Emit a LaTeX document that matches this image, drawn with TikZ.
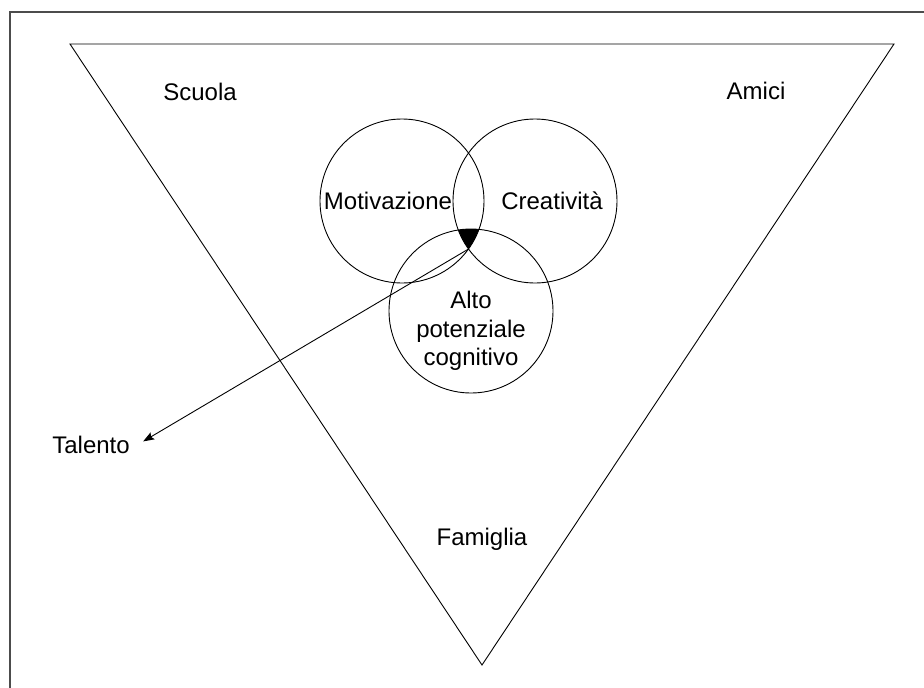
\documentclass[tikz,border=0pt]{standalone}
\usepackage{fontspec}
\setmainfont{Liberation Sans}
\usepackage{tikz}
\usetikzlibrary{arrows.meta}
\usetikzlibrary{calc}

\begin{document}
\begin{tikzpicture}[x=1pt,y=-1pt,line width=0.9pt,
    ring/.style={circle, draw, minimum size=164pt, inner sep=0pt},
    lbl/.style={font=\fontsize{24}{28.5}\selectfont, inner sep=0pt}]
    \useasboundingbox (0,0) rectangle (924,688);

    % Frame (only the left and top edges are visible)
    \draw[line width=1.4pt, black!70] (10,688) -- (10,12) -- (924,12);

    % Define the coordinates of the triangle corners
    \coordinate (A) at (70,44);
    \coordinate (B) at (894,44);
    \coordinate (C) at (482,665);

    % Draw the triangle
    \draw (A) -- (B) -- (C) -- cycle;

    % The three circles
    \node[ring] (motiv) at (402,201) {};
    \node[ring] (creat) at (535,201) {};
    \node[ring] (alto) at (471,311) {};

    % Fill the part common to all three
    \begin{scope}
      \clip (motiv.center) circle (82pt);
      \clip (creat.center) circle (82pt);
      \fill (alto.center) circle (82pt);
    \end{scope}

    % Label the circles
    \node[lbl, anchor=base] (motivtxt) at (388,209) {Motivazione};
    \node[lbl, anchor=base] (creattxt) at (552,209) {Creatività};
    \node[lbl, align=center] (altotxt) at (471,331) {Alto\\potenziale\\cognitivo};

    % Label the corners
    \node[lbl, anchor=base] (scuola) at (200,100) {Scuola};
    \node[lbl, anchor=base] (amici) at (756,99) {Amici};
    \node[lbl, anchor=base] (famiglia) at (482,545) {Famiglia};
    \node[lbl, anchor=base] (talento) at (91,453) {Talento};

    % Arrow from the common part to the label
    \coordinate (tip) at (468.5,249);
    \draw[-{Stealth[length=11pt,width=8pt,inset=2pt]}] (tip) -- ([shift={(13,-3)}]talento.east);
\end{tikzpicture}
\end{document}
